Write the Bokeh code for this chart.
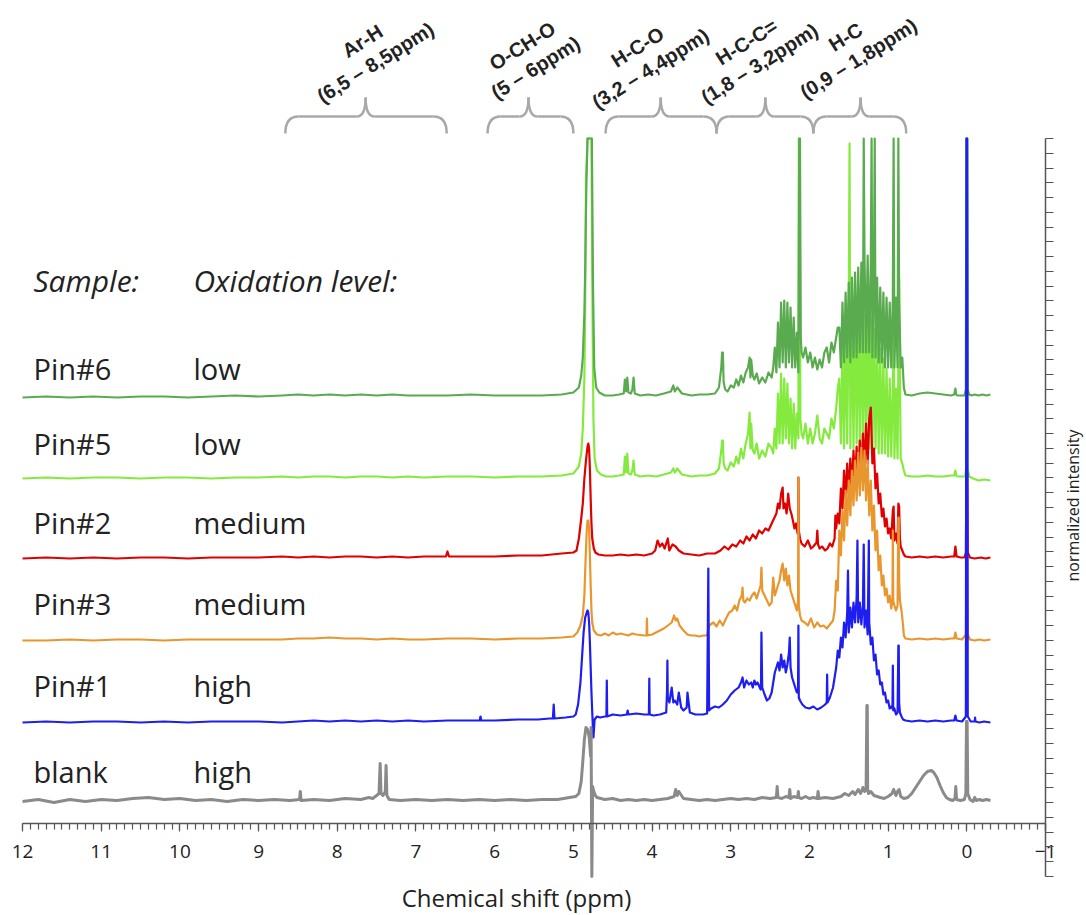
import math
from bokeh.plotting import figure
from bokeh.models import Range1d, LinearAxis, FixedTicker
from bokeh.core.properties import value
from bokeh.embed import file_html
from bokeh.resources import INLINE

# ---------------- data ----------------
# chemical shift (ppm) and intensity above each trace's own baseline
pin6_ppm = [
    12.0, 11.7, 11.4, 11.1, 10.8, 10.5, 10.2, 9.9, 9.6, 9.3,
    9.0, 8.7, 8.5, 8.3, 8.1, 7.9, 7.7, 7.5, 7.3, 7.1,
    6.9, 6.6, 6.3, 6.0, 5.7, 5.4, 5.15, 5.0, 4.93, 4.9,
    4.88, 4.86, 4.85, 4.835, 4.82, 4.8, 4.78, 4.765, 4.75, 4.735,
    4.71, 4.67, 4.6, 4.5, 4.42, 4.36, 4.345, 4.33, 4.315, 4.3,
    4.27, 4.25, 4.235, 4.22, 4.15, 4.05, 3.95, 3.85, 3.76, 3.73,
    3.71, 3.68, 3.62, 3.5, 3.4, 3.3, 3.2, 3.15, 3.12, 3.11,
    3.1, 3.09, 3.07, 3.04, 3.0, 2.96, 2.93, 2.9, 2.87, 2.84,
    2.81, 2.78, 2.76, 2.75, 2.74, 2.72, 2.7, 2.67, 2.64, 2.6,
    2.56, 2.52, 2.48, 2.46, 2.44, 2.42, 2.40, 2.38, 2.36, 2.34,
    2.32, 2.30, 2.28, 2.26, 2.24, 2.22, 2.20, 2.18, 2.16, 2.14,
    2.13, 2.12, 2.11, 2.10, 2.08, 2.05, 2.02, 1.99, 1.96, 1.93,
    1.90, 1.87, 1.84, 1.81, 1.78, 1.75, 1.72, 1.69, 1.66, 1.64,
    1.62, 1.60, 1.58, 1.56, 1.54, 1.52, 1.50, 1.48, 1.46, 1.44,
    1.42, 1.40, 1.38, 1.36, 1.34, 1.32, 1.31, 1.30, 1.28, 1.26,
    1.24, 1.22, 1.21, 1.20, 1.18, 1.17, 1.16, 1.14, 1.12, 1.10,
    1.08, 1.06, 1.04, 1.02, 1.00, 0.98, 0.96, 0.94, 0.93, 0.92,
    0.90, 0.88, 0.87, 0.86, 0.84, 0.82, 0.80, 0.78, 0.7, 0.6,
    0.5, 0.4, 0.3, 0.2, 0.16, 0.145, 0.135, 0.12, 0.08, 0.03,
    0.012, 0.006, 0.0, -0.006, -0.012, -0.03, -0.06, -0.1, -0.15, -0.2,
    -0.25, -0.3]
pin6_int = [
    0, 1, 0, 1, 0, 1, 1, 0, 1, 2,
    1, 2, 3, 2, 3, 2, 3, 2, 3, 2,
    2, 2, 3, 2, 2, 2, 3, 5, 10, 22,
    40, 84, 127, 210, 259, 259, 259, 259, 110, 30,
    10, 5, 2, 2, 3, 4, 18, 6, 20, 5,
    4, 8, 20, 4, 2, 3, 2, 4, 6, 12,
    6, 10, 4, 2, 3, 3, 4, 10, 30, 45,
    45, 15, 8, 6, 12, 10, 18, 12, 22, 15,
    25, 30, 40, 20, 38, 22, 18, 24, 14, 20,
    15, 25, 20, 30, 50, 25, 75, 30, 95, 35,
    97, 30, 95, 35, 90, 30, 80, 30, 65, 25,
    259, 259, 60, 45, 40, 50, 35, 45, 30, 40,
    28, 38, 30, 45, 50, 35, 55, 45, 60, 70,
    70, 30, 95, 35, 105, 40, 115, 35, 120, 40,
    125, 40, 130, 45, 135, 45, 259, 140, 45, 142,
    45, 135, 259, 40, 130, 259, 40, 120, 35, 110,
    35, 105, 30, 100, 30, 95, 30, 100, 259, 30,
    100, 30, 259, 95, 30, 40, 10, 3, 2, 4,
    5, 4, 3, 2, 3, 9, 3, 2, 2, 2,
    8, 259, 259, 259, 8, 3, 2, 3, 2, 3,
    2, 3]

pin5_ppm = [
    12.0, 11.7, 11.4, 11.1, 10.8, 10.5, 10.2, 9.9, 9.6, 9.3,
    9.0, 8.7, 8.5, 8.3, 8.1, 7.9, 7.7, 7.5, 7.3, 7.1,
    6.9, 6.6, 6.3, 6.0, 5.7, 5.4, 5.15, 5.0, 4.93, 4.9,
    4.88, 4.86, 4.85, 4.84, 4.82, 4.8, 4.78, 4.77, 4.76, 4.745,
    4.73, 4.7, 4.65, 4.58, 4.5, 4.42, 4.36, 4.345, 4.33, 4.315,
    4.3, 4.27, 4.25, 4.235, 4.22, 4.15, 4.05, 3.95, 3.85, 3.76,
    3.73, 3.71, 3.68, 3.62, 3.5, 3.4, 3.3, 3.2, 3.15, 3.12,
    3.11, 3.1, 3.09, 3.07, 3.04, 3.0, 2.96, 2.93, 2.9, 2.87,
    2.84, 2.81, 2.78, 2.76, 2.75, 2.74, 2.72, 2.7, 2.67, 2.64,
    2.60, 2.56, 2.52, 2.48, 2.46, 2.44, 2.42, 2.40, 2.38, 2.36,
    2.34, 2.32, 2.30, 2.28, 2.26, 2.24, 2.22, 2.20, 2.18, 2.16,
    2.14, 2.135, 2.125, 2.115, 2.10, 2.08, 2.05, 2.02, 1.99, 1.96,
    1.93, 1.90, 1.87, 1.84, 1.81, 1.78, 1.75, 1.72, 1.69, 1.66,
    1.64, 1.62, 1.60, 1.58, 1.56, 1.54, 1.52, 1.50, 1.49, 1.48,
    1.46, 1.44, 1.42, 1.40, 1.38, 1.36, 1.34, 1.32, 1.30, 1.28,
    1.26, 1.24, 1.22, 1.20, 1.18, 1.16, 1.14, 1.12, 1.10, 1.08,
    1.06, 1.04, 1.02, 1.00, 0.98, 0.96, 0.94, 0.93, 0.92, 0.90,
    0.88, 0.86, 0.84, 0.82, 0.80, 0.78, 0.7, 0.6, 0.5, 0.4,
    0.3, 0.2, 0.16, 0.145, 0.135, 0.12, 0.06, 0.02, 0.008, 0.002,
    -0.004, -0.01, -0.03, -0.08, -0.15, -0.22, -0.3]
pin5_int = [
    0, 1, 0, 1, 1, 0, 1, 1, 0, 1,
    1, 2, 1, 2, 2, 1, 2, 2, 1, 2,
    1, 2, 2, 1, 2, 2, 3, 5, 12, 25,
    50, 100, 170, 300, 340, 340, 340, 340, 200, 60,
    20, 8, 4, 2, 2, 3, 4, 22, 6, 25,
    5, 4, 8, 18, 4, 2, 3, 2, 4, 6,
    10, 6, 10, 4, 2, 3, 3, 5, 10, 28,
    38, 38, 15, 10, 8, 16, 12, 22, 15, 30,
    20, 35, 45, 66, 30, 55, 28, 25, 35, 20,
    28, 22, 35, 30, 25, 50, 30, 85, 35, 105,
    35, 100, 40, 95, 35, 80, 30, 75, 30, 65,
    40, 340, 340, 60, 45, 40, 55, 35, 50, 35,
    45, 63, 40, 35, 50, 45, 40, 60, 50, 70,
    90, 100, 35, 130, 30, 150, 35, 170, 335, 30,
    175, 30, 180, 35, 178, 30, 175, 35, 170, 30,
    180, 30, 160, 28, 150, 30, 140, 25, 130, 25,
    120, 25, 110, 22, 100, 22, 95, 180, 20, 90,
    20, 200, 20, 15, 8, 3, 2, 2, 3, 2,
    2, 3, 3, 8, 3, 2, 2, 2, 10, 340,
    340, 10, 2, 0, -2, -1, -2]

pin2_ppm = [
    12.0, 11.7, 11.4, 11.1, 10.8, 10.5, 10.2, 9.9, 9.6, 9.3,
    9.0, 8.7, 8.5, 8.3, 8.1, 7.9, 7.7, 7.5, 7.3, 7.1,
    6.9, 6.62, 6.6, 6.58, 6.3, 6.0, 5.7, 5.4, 5.15, 5.0,
    4.96, 4.93, 4.9, 4.88, 4.86, 4.84, 4.82, 4.81, 4.8, 4.79,
    4.78, 4.77, 4.76, 4.74, 4.72, 4.68, 4.6, 4.5, 4.4, 4.3,
    4.2, 4.1, 4.0, 3.96, 3.93, 3.9, 3.87, 3.84, 3.8, 3.78,
    3.74, 3.7, 3.66, 3.6, 3.5, 3.4, 3.3, 3.2, 3.13, 3.08,
    3.03, 2.98, 2.93, 2.88, 2.84, 2.8, 2.76, 2.72, 2.68, 2.64,
    2.6, 2.56, 2.52, 2.48, 2.45, 2.42, 2.4, 2.38, 2.36, 2.34,
    2.33, 2.31, 2.29, 2.27, 2.25, 2.23, 2.21, 2.19, 2.17, 2.15,
    2.145, 2.14, 2.135, 2.12, 2.1, 2.06, 2.02, 1.98, 1.95, 1.91,
    1.9, 1.89, 1.87, 1.84, 1.8, 1.77, 1.74, 1.71, 1.68, 1.67,
    1.66, 1.64, 1.62, 1.60, 1.58, 1.56, 1.54, 1.52, 1.50, 1.48,
    1.46, 1.44, 1.42, 1.40, 1.38, 1.36, 1.34, 1.32, 1.30, 1.28,
    1.26, 1.24, 1.22, 1.20, 1.18, 1.16, 1.14, 1.12, 1.10, 1.08,
    1.06, 1.04, 1.02, 1.00, 0.98, 0.96, 0.94, 0.93, 0.92, 0.90,
    0.88, 0.87, 0.86, 0.85, 0.84, 0.82, 0.80, 0.78, 0.7, 0.6,
    0.5, 0.4, 0.3, 0.2, 0.16, 0.145, 0.13, 0.08, 0.03, 0.012,
    0.005, -0.005, -0.012, -0.04, -0.1, -0.18, -0.24, -0.3]
pin2_int = [
    0, 1, 0, 1, 0, 1, 1, 0, 1, 1,
    1, 2, 1, 2, 1, 2, 2, 1, 2, 1,
    2, 2, 7, 2, 2, 2, 3, 3, 5, 6,
    8, 20, 40, 55, 80, 98, 112, 115, 110, 90,
    60, 35, 20, 10, 6, 4, 3, 3, 4, 3,
    4, 3, 5, 8, 18, 12, 15, 10, 20, 8,
    14, 12, 8, 5, 4, 3, 5, 5, 8, 12,
    9, 14, 12, 18, 15, 22, 18, 24, 20, 28,
    25, 30, 28, 35, 40, 45, 55, 50, 65, 71,
    50, 55, 45, 65, 50, 45, 38, 30, 35, 25,
    30, 81, 28, 20, 15, 12, 18, 10, 12, 16,
    28, 14, 10, 12, 8, 10, 15, 12, 20, 43,
    30, 45, 35, 70, 50, 88, 60, 95, 65, 100,
    70, 108, 75, 112, 78, 118, 85, 125, 90, 135,
    95, 140, 151, 95, 110, 70, 85, 55, 65, 42,
    50, 32, 40, 25, 30, 20, 48, 52, 18, 25,
    15, 55, 52, 20, 12, 8, 4, 2, 1, 2,
    1, 2, 1, 2, 2, 12, 2, 1, 1, 6,
    85, 85, 6, 1, 0, 1, 0, 1]

pin3_ppm = [
    12.0, 11.7, 11.4, 11.1, 10.8, 10.5, 10.2, 9.9, 9.6, 9.3,
    9.0, 8.7, 8.5, 8.3, 8.1, 7.9, 7.7, 7.5, 7.3, 7.1,
    6.9, 6.6, 6.3, 6.0, 5.7, 5.4, 5.15, 5.0, 4.95, 4.91,
    4.88, 4.86, 4.845, 4.83, 4.82, 4.81, 4.8, 4.79, 4.78, 4.77,
    4.76, 4.74, 4.7, 4.65, 4.6, 4.55, 4.5, 4.45, 4.4, 4.35,
    4.3, 4.25, 4.2, 4.1, 4.07, 4.065, 4.06, 4.0, 3.95, 3.9,
    3.85, 3.8, 3.75, 3.72, 3.7, 3.68, 3.65, 3.6, 3.55, 3.5,
    3.45, 3.4, 3.35, 3.3, 3.285, 3.275, 3.26, 3.22, 3.18, 3.14,
    3.1, 3.06, 3.02, 2.98, 2.95, 2.92, 2.89, 2.86, 2.85, 2.84,
    2.82, 2.79, 2.76, 2.73, 2.7, 2.67, 2.64, 2.62, 2.61, 2.6,
    2.57, 2.54, 2.51, 2.48, 2.46, 2.44, 2.42, 2.4, 2.38, 2.36,
    2.34, 2.32, 2.3, 2.28, 2.26, 2.24, 2.22, 2.2, 2.18, 2.16,
    2.145, 2.14, 2.135, 2.12, 2.1, 2.06, 2.02, 1.98, 1.94, 1.9,
    1.86, 1.82, 1.78, 1.74, 1.70, 1.68, 1.66, 1.64, 1.62, 1.60,
    1.58, 1.56, 1.54, 1.52, 1.50, 1.48, 1.46, 1.44, 1.42, 1.40,
    1.38, 1.36, 1.34, 1.32, 1.30, 1.28, 1.26, 1.24, 1.22, 1.20,
    1.18, 1.16, 1.14, 1.12, 1.10, 1.08, 1.06, 1.04, 1.02, 1.00,
    0.98, 0.96, 0.945, 0.94, 0.935, 0.92, 0.90, 0.88, 0.87, 0.865,
    0.86, 0.85, 0.83, 0.81, 0.8, 0.78, 0.7, 0.6, 0.5, 0.4,
    0.3, 0.2, 0.16, 0.145, 0.13, 0.06, 0.012, 0.004, -0.004, -0.012,
    -0.04, -0.1, -0.16, -0.22, -0.3]
pin3_int = [
    0, 0, 1, 0, 1, 1, 0, 1, 1, 1,
    1, 1, 2, 2, 3, 2, 2, 1, 2, 1,
    1, 2, 2, 1, 2, 2, 3, 4, 8, 15,
    25, 45, 80, 110, 120, 120, 112, 85, 55, 30,
    18, 10, 6, 5, 7, 5, 8, 6, 7, 6,
    5, 7, 6, 5, 5, 22, 5, 6, 8, 10,
    12, 15, 18, 25, 20, 22, 15, 10, 6, 5,
    5, 4, 5, 5, 12, 14, 16, 18, 14, 20,
    15, 22, 28, 30, 35, 30, 40, 45, 53, 40,
    38, 42, 40, 45, 48, 42, 50, 55, 73, 50,
    45, 40, 35, 38, 63, 45, 50, 55, 60, 70,
    77, 60, 72, 55, 65, 50, 45, 40, 35, 30,
    40, 163, 35, 25, 20, 18, 15, 22, 13, 18,
    14, 15, 12, 16, 20, 30, 60, 50, 110, 85,
    130, 100, 150, 115, 160, 125, 170, 135, 180, 140,
    188, 145, 193, 150, 190, 140, 180, 125, 160, 110,
    135, 90, 110, 70, 85, 55, 65, 45, 52, 38,
    45, 32, 40, 110, 40, 35, 30, 35, 123, 123,
    60, 40, 30, 15, 5, 2, 1, 2, 1, 2,
    1, 2, 2, 8, 2, 1, 6, 83, 83, 6,
    1, 0, 1, 0, 1]

pin1_ppm = [
    12.0, 11.7, 11.4, 11.1, 10.8, 10.5, 10.2, 9.9, 9.6, 9.3,
    9.0, 8.7, 8.5, 8.3, 8.1, 7.9, 7.7, 7.5, 7.3, 7.1,
    6.9, 6.6, 6.3, 6.19, 6.18, 6.17, 6.0, 5.7, 5.45, 5.3,
    5.26, 5.25, 5.24, 5.1, 5.0, 4.97, 4.94, 4.91, 4.89, 4.87,
    4.85, 4.83, 4.82, 4.81, 4.8, 4.79, 4.78, 4.77, 4.76, 4.75,
    4.745, 4.73, 4.7, 4.66, 4.6, 4.58, 4.575, 4.57, 4.5, 4.4,
    4.32, 4.31, 4.3, 4.2, 4.1, 4.04, 4.035, 4.03, 3.98, 3.9,
    3.82, 3.81, 3.805, 3.8, 3.78, 3.75, 3.73, 3.71, 3.68, 3.66,
    3.63, 3.6, 3.56, 3.55, 3.52, 3.45, 3.4, 3.35, 3.3, 3.285,
    3.275, 3.25, 3.2, 3.15, 3.1, 3.05, 3.0, 2.95, 2.9, 2.87,
    2.85, 2.83, 2.8, 2.77, 2.74, 2.72, 2.7, 2.68, 2.66, 2.62,
    2.615, 2.61, 2.6, 2.57, 2.54, 2.51, 2.48, 2.46, 2.44, 2.42,
    2.4, 2.38, 2.36, 2.34, 2.32, 2.3, 2.28, 2.26, 2.25, 2.24,
    2.22, 2.2, 2.18, 2.16, 2.145, 2.14, 2.135, 2.12, 2.09, 2.05,
    2.0, 1.95, 1.9, 1.85, 1.8, 1.78, 1.775, 1.77, 1.74, 1.7,
    1.68, 1.66, 1.64, 1.62, 1.60, 1.58, 1.56, 1.54, 1.52, 1.51,
    1.50, 1.48, 1.46, 1.44, 1.42, 1.40, 1.39, 1.38, 1.36, 1.34,
    1.32, 1.31, 1.30, 1.28, 1.26, 1.245, 1.24, 1.22, 1.20, 1.18,
    1.16, 1.14, 1.12, 1.10, 1.08, 1.06, 1.04, 1.02, 1.00, 0.98,
    0.96, 0.945, 0.94, 0.935, 0.92, 0.90, 0.88, 0.87, 0.865, 0.86,
    0.85, 0.83, 0.81, 0.78, 0.7, 0.6, 0.5, 0.4, 0.3, 0.2,
    0.16, 0.145, 0.13, 0.06, 0.012, 0.004, -0.004, -0.012, -0.05, -0.1,
    -0.105, -0.11, -0.16, -0.22, -0.3]
pin1_int = [
    0, 1, 0, 1, 1, 0, 1, 0, 1, 1,
    1, 0, 1, 2, 1, 2, 1, 2, 1, 2,
    1, 2, 2, 2, 6, 2, 2, 3, 3, 4,
    4, 18, 4, 5, 6, 8, 18, 40, 65, 90,
    105, 110, 112, 110, 100, 80, 55, 30, 10, -8,
    -15, 3, 6, 5, 6, 6, 42, 6, 8, 7,
    8, 12, 8, 9, 8, 8, 44, 8, 7, 8,
    10, 30, 62, 25, 20, 35, 20, 22, 18, 30,
    15, 12, 15, 30, 10, 8, 8, 8, 9, 154,
    12, 14, 16, 15, 18, 22, 28, 32, 35, 40,
    45, 35, 42, 38, 40, 35, 42, 38, 40, 33,
    40, 90, 35, 28, 22, 24, 30, 40, 50, 55,
    60, 52, 68, 55, 62, 50, 58, 70, 85, 55,
    45, 40, 35, 30, 30, 97, 25, 22, 18, 15,
    14, 16, 13, 15, 18, 20, 48, 20, 25, 35,
    45, 55, 72, 65, 85, 75, 100, 85, 110, 152,
    90, 115, 95, 120, 100, 125, 182, 100, 120, 98,
    118, 178, 95, 112, 88, 182, 100, 78, 85, 62,
    68, 48, 52, 38, 40, 28, 30, 20, 22, 14,
    16, 14, 57, 12, 14, 8, 10, 77, 77, 20,
    10, 6, 3, 2, 1, 2, 1, 2, 1, 2,
    2, 7, 2, 1, 6, 584, 584, 6, 1, 1,
    5, 1, 0, 1, 0]

blank_ppm = [
    12.0, 11.8, 11.6, 11.4, 11.2, 11.0, 10.8, 10.6, 10.4, 10.2,
    10.0, 9.8, 9.6, 9.4, 9.2, 9.0, 8.8, 8.6, 8.48, 8.47,
    8.46, 8.3, 8.1, 7.9, 7.7, 7.6, 7.55, 7.5, 7.47, 7.455,
    7.445, 7.42, 7.39, 7.38, 7.37, 7.34, 7.2, 7.0, 6.8, 6.6,
    6.4, 6.2, 6.0, 5.8, 5.6, 5.4, 5.2, 5.05, 4.97, 4.93,
    4.9, 4.88, 4.86, 4.84, 4.82, 4.8, 4.79, 4.78, 4.775, 4.765,
    4.755, 4.74, 4.72, 4.7, 4.65, 4.6, 4.5, 4.4, 4.3, 4.2,
    4.1, 4.0, 3.9, 3.8, 3.72, 3.7, 3.68, 3.66, 3.6, 3.5,
    3.4, 3.3, 3.2, 3.1, 3.0, 2.9, 2.8, 2.7, 2.6, 2.5,
    2.42, 2.41, 2.4, 2.35, 2.3, 2.26, 2.25, 2.24, 2.2, 2.15,
    2.14, 2.135, 2.1, 2.05, 2.0, 1.95, 1.9, 1.89, 1.88, 1.8,
    1.7, 1.6, 1.55, 1.5, 1.45, 1.42, 1.38, 1.35, 1.32, 1.3,
    1.28, 1.27, 1.265, 1.26, 1.25, 1.22, 1.18, 1.14, 1.1, 1.05,
    1.0, 0.95, 0.93, 0.9, 0.88, 0.86, 0.84, 0.8, 0.75, 0.7,
    0.65, 0.6, 0.55, 0.5, 0.45, 0.42, 0.38, 0.34, 0.3, 0.26,
    0.22, 0.18, 0.15, 0.14, 0.13, 0.08, 0.03, 0.012, 0.004, -0.004,
    -0.012, -0.04, -0.08, -0.1, -0.12, -0.16, -0.2, -0.25, -0.3]
blank_int = [
    0, 2, -1, 2, 0, 2, 1, 3, 4, 2,
    3, 1, 2, 0, 2, 1, 2, 1, 2, 10,
    1, 2, 1, 3, 2, 4, 3, 6, 8, 38,
    8, 6, 10, 36, 6, 2, 1, 2, 1, 2,
    1, 2, 1, 2, 1, 2, 2, 4, 5, 8,
    20, 40, 62, 74, 72, 65, 55, 45, 74, -75,
    15, 10, 6, 4, 3, 2, 3, 1, 2, 1,
    2, 1, 2, 3, 5, 12, 6, 10, 3, 2,
    1, 2, 1, 2, 3, 2, 3, 2, 4, 3,
    4, 15, 4, 3, 5, 4, 12, 3, 5, 4,
    10, 4, 3, 5, 3, 4, 3, 10, 3, 4,
    3, 5, 8, 6, 10, 7, 12, 8, 14, 10,
    12, 96, 96, 12, 8, 10, 6, 5, 4, 3,
    5, 8, 12, 6, 10, 12, 5, 3, 4, 8,
    14, 20, 26, 30, 31, 29, 24, 16, 9, 4,
    2, 1, 3, 15, 2, 1, 2, 8, 80, 80,
    8, 2, 0, 4, 1, 2, 1, 2, 1]

sample_names = ["Pin#6", "Pin#5", "Pin#2", "Pin#3", "Pin#1", "blank"]
oxidation_levels = ["low", "low", "medium", "medium", "high", "high"]

region_names = ["Ar-H", "O-CH-O", "H-C-O", "H-C-C=", "H-C"]
region_ranges = ["(6,5 \u2013 8,5ppm)", "(5 \u2013 6ppm)", "(3,2 \u2013 4,4ppm)",
                 "(1,8 \u2013 3,2ppm)", "(0,9 \u2013 1,8ppm)"]
region_left_ppm = [8.66, 6.09, 4.59, 3.18, 1.95]
region_mid_ppm = [7.64, 5.57, 3.89, 2.56, 1.35]
region_right_ppm = [6.61, 5.00, 3.18, 1.95, 0.77]

x_tick_values = list(range(-1, 13))

for a, b in [(pin6_ppm, pin6_int), (pin5_ppm, pin5_int), (pin2_ppm, pin2_int),
             (pin3_ppm, pin3_int), (pin1_ppm, pin1_int), (blank_ppm, blank_int)]:
    assert len(a) == len(b), (len(a), len(b))

# ---------------- layout ----------------
W, H = 1086, 915
X_LEFT = 12.28
PX_PER_PPM = 1045 / 13.28          # ppm -1 sits at pixel column 1045
X_RIGHT = X_LEFT - W / PX_PER_PPM
Y0_PX = 876                         # pixel row of y = 0


def px_x(px):
    return X_LEFT - px / PX_PER_PPM


def ppm_px(ppm):
    return (X_LEFT - ppm) * PX_PER_PPM


def px_y(py):
    return Y0_PX - py


FONT = "Open Sans"
TEXT_COLOR = "#222222"
AXIS_COLOR = "#555555"

p = figure(width=W, height=H, x_range=Range1d(X_LEFT, X_RIGHT), y_range=Range1d(-(H - Y0_PX), Y0_PX),
           output_backend="svg", toolbar_location=None, x_axis_location=None, y_axis_location=None,
           min_border_left=0, min_border_right=0, min_border_top=0, min_border_bottom=0)
p.outline_line_color = None
p.background_fill_color = "white"
p.border_fill_color = "white"
for g in p.grid:
    g.visible = False

# traces, stacking offsets (baseline pixel rows) and colours
traces = {
    "Pin#6": (pin6_ppm, pin6_int, 397, "#5aab4f"),
    "Pin#5": (pin5_ppm, pin5_int, 478, "#84ea3e"),
    "Pin#2": (pin2_ppm, pin2_int, 558, "#e00000"),
    "Pin#3": (pin3_ppm, pin3_int, 640, "#e8962e"),
    "Pin#1": (pin1_ppm, pin1_int, 722, "#1e1ef0"),
    "blank": (blank_ppm, blank_int, 801, "#8a8a8a"),
}
draw_order = ["Pin#5", "Pin#6", "Pin#2", "Pin#3", "Pin#1", "blank"]
for name in draw_order:
    xs, ints, base_px, color = traces[name]
    base = px_y(base_px)
    ys = [base + v for v in ints]
    p.line(xs, ys, line_color=color, line_width=3 if name == "blank" else 2.2, line_join="round")

# x axis drawn at the original baseline position
xaxis = LinearAxis(
    fixed_location=px_y(823), bounds=(-1, 12),
    ticker=FixedTicker(ticks=x_tick_values, minor_ticks=[round(-1 + 0.1 * i, 1) for i in range(131)]),
    axis_line_color=AXIS_COLOR, axis_line_width=1.5,
    major_tick_line_color=AXIS_COLOR, minor_tick_line_color=AXIS_COLOR,
    major_tick_in=0, major_tick_out=8, minor_tick_in=0, minor_tick_out=6,
    major_tick_line_width=1.2, minor_tick_line_width=1.2,
    major_label_text_font=FONT, major_label_text_font_size="19px", major_label_text_color=TEXT_COLOR,
    major_label_standoff=13,
)
p.add_layout(xaxis, "below")
p.text(x=[px_x(516)], y=[px_y(897)], text=["Chemical shift (ppm)"],
       text_font=value(FONT), text_font_size=value("24px"), text_color=TEXT_COLOR,
       text_align="center", text_baseline="middle")

# right intensity axis at ppm = -1 (ticks only)
step = (Y0_PX - 138) / 50.0
yaxis = LinearAxis(
    fixed_location=-1.0, bounds=(0, Y0_PX - 138),
    ticker=FixedTicker(ticks=[], minor_ticks=[i * step for i in range(51)]),
    axis_line_color=AXIS_COLOR, axis_line_width=1.5,
    minor_tick_line_color=AXIS_COLOR, minor_tick_in=0, minor_tick_out=8, minor_tick_line_width=1.2,
    major_tick_line_color=None,
)
p.add_layout(yaxis, "right")

p.text(x=[px_x(1072)], y=[px_y(505)], text=["normalized intensity"], angle=math.pi / 2,
       text_font=value(FONT), text_font_size=value("16px"), text_color=TEXT_COLOR,
       text_align="center", text_baseline="middle")

# sample / oxidation labels
label_center_px = [368, 443, 522, 603, 685, 771]
LABEL_SIZE = "29px"
p.text(x=[px_x(33)] * len(sample_names), y=[px_y(c) for c in label_center_px], text=sample_names,
       text_font=value(FONT), text_font_size=value(LABEL_SIZE), text_color=TEXT_COLOR,
       text_align="left", text_baseline="middle")
p.text(x=[px_x(193)] * len(oxidation_levels), y=[px_y(c) for c in label_center_px], text=oxidation_levels,
       text_font=value(FONT), text_font_size=value(LABEL_SIZE), text_color=TEXT_COLOR,
       text_align="left", text_baseline="middle")
p.text(x=[px_x(33), px_x(193)], y=[px_y(280)] * 2, text=["Sample:", "Oxidation level:"],
       text_font=value(FONT), text_font_size=value("30px"), text_font_style="italic",
       text_color=TEXT_COLOR, text_align="left", text_baseline="middle")

# region braces
BR_BOT, BR_LINE, BR_TIP = 133, 116, 97
R_END, R_TIP = 13, 9
q = dict(x0=[], y0=[], x1=[], y1=[], cx=[], cy=[])
s = dict(x0=[], y0=[], x1=[], y1=[])
for l, m, r in zip(region_left_ppm, region_mid_ppm, region_right_ppm):
    xl, xc, xr = ppm_px(l), ppm_px(m), ppm_px(r)
    curves = [
        (xl, BR_BOT, xl + R_END, BR_LINE, xl, BR_LINE),
        (xc - R_TIP, BR_LINE, xc, BR_TIP, xc, BR_LINE),
        (xc + R_TIP, BR_LINE, xc, BR_TIP, xc, BR_LINE),
        (xr, BR_BOT, xr - R_END, BR_LINE, xr, BR_LINE),
    ]
    for a0, b0, a1, b1, ca, cb in curves:
        q["x0"].append(px_x(a0)); q["y0"].append(px_y(b0))
        q["x1"].append(px_x(a1)); q["y1"].append(px_y(b1))
        q["cx"].append(px_x(ca)); q["cy"].append(px_y(cb))
    for a0, a1 in [(xl + R_END, xc - R_TIP), (xc + R_TIP, xr - R_END)]:
        s["x0"].append(px_x(a0)); s["y0"].append(px_y(BR_LINE))
        s["x1"].append(px_x(a1)); s["y1"].append(px_y(BR_LINE))
p.quadratic(x0=q["x0"], y0=q["y0"], x1=q["x1"], y1=q["y1"], cx=q["cx"], cy=q["cy"],
            line_color="#a8a8a8", line_width=2.5)
p.segment(x0=s["x0"], y0=s["y0"], x1=s["x1"], y1=s["y1"], line_color="#a8a8a8", line_width=2.5)

# rotated region labels
ANG = math.radians(32)
range_center_px = [(375, 62), (535, 67), (650, 68), (759, 63), (858, 58)]
name_dx, name_dy = -13.0, -21.5
p.text(x=[px_x(cx) for cx, cy in range_center_px], y=[px_y(cy) for cx, cy in range_center_px],
       text=region_ranges, angle=ANG, text_font=value("Liberation Sans"), text_font_size=value("20px"),
       text_font_style="bold", text_color=TEXT_COLOR, text_align="center", text_baseline="middle")
p.text(x=[px_x(cx + name_dx) for cx, cy in range_center_px], y=[px_y(cy + name_dy) for cx, cy in range_center_px],
       text=region_names, angle=ANG, text_font=value("Liberation Sans"), text_font_size=value("20px"),
       text_font_style="bold", text_color=TEXT_COLOR, text_align="center", text_baseline="middle")

open("out.html", "w").write(file_html(p, INLINE))
